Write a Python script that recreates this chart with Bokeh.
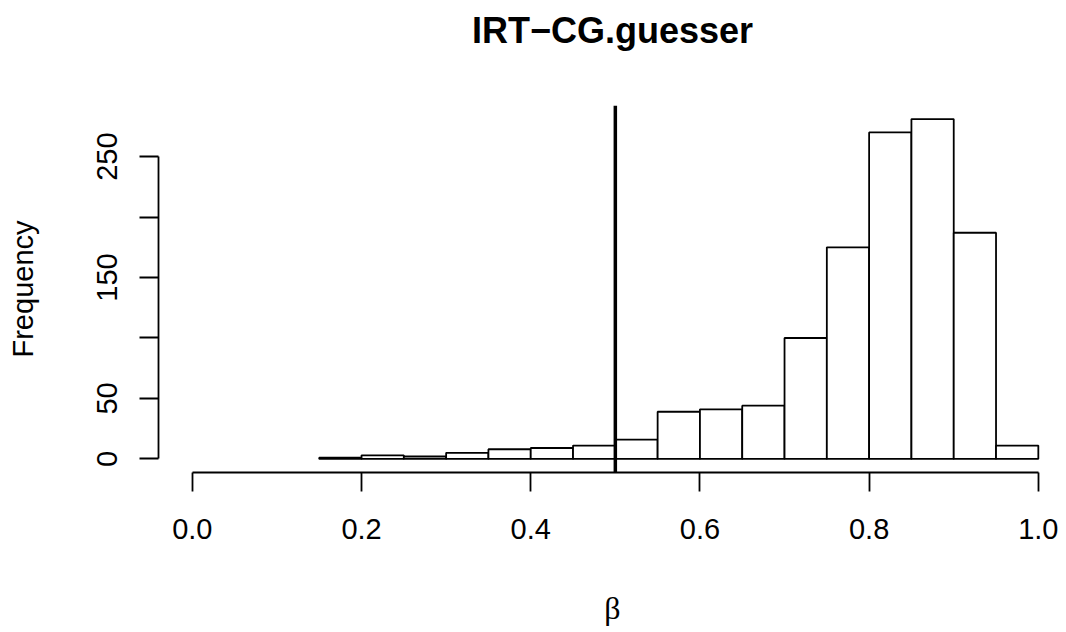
from bokeh.plotting import figure
from bokeh.models import Range1d, FixedTicker, Span
from bokeh.embed import file_html
from bokeh.resources import INLINE

# Histogram data (bin edges and frequencies)
bin_left = [0.15, 0.20, 0.25, 0.30, 0.35, 0.40, 0.45, 0.50, 0.55, 0.60,
            0.65, 0.70, 0.75, 0.80, 0.85, 0.90, 0.95]
bin_right = [0.20, 0.25, 0.30, 0.35, 0.40, 0.45, 0.50, 0.55, 0.60, 0.65,
             0.70, 0.75, 0.80, 0.85, 0.90, 0.95, 1.00]
counts = [1, 3, 2, 5, 8, 9, 11, 16, 39, 41, 44, 100, 175, 270, 281, 187, 11]

x_ticks = [0.0, 0.2, 0.4, 0.6, 0.8, 1.0]
x_tick_labels = ["0.0", "0.2", "0.4", "0.6", "0.8", "1.0"]
y_ticks = [0, 50, 100, 150, 200, 250]
y_tick_labels = ["0", "50", "", "150", "", "250"]
threshold = 0.5

title_text = "IRT\u2212CG.guesser"
x_label = "\u03b2"
y_label = "Frequency"

FONT = "Liberation Sans"

p = figure(width=1066, height=632,
           x_range=Range1d(-0.04, 1.0333), y_range=Range1d(-11.24, 292.24),
           output_backend="svg", toolbar_location=None,
           min_border_left=158, min_border_right=0,
           min_border_top=105, min_border_bottom=160)

p.quad(left=bin_left, right=bin_right, top=counts, bottom=0,
       fill_color="white", line_color="black", line_width=1.8)

p.add_layout(Span(location=threshold, dimension="height",
                  line_color="black", line_width=3.5))

p.grid.visible = False
p.outline_line_color = None
p.background_fill_color = "white"
p.border_fill_color = "white"

# Title: a blank second line lifts the text towards the top of the margin
p.title.text = title_text + "\n "
p.title.align = "center"
p.title.text_font = FONT
p.title.text_font_style = "bold"
p.title.text_font_size = "36px"
p.title.text_color = "black"
p.title.text_line_height = 1.2
p.title.standoff = 10
p.title.offset = 3

# X axis
xa = p.xaxis[0]
xa.bounds = (0, 1)
xa.ticker = FixedTicker(ticks=x_ticks)
xa.major_label_overrides = {t: l for t, l in zip(x_ticks, x_tick_labels)}
xa.minor_tick_line_color = None
xa.major_tick_in = 0
xa.major_tick_out = 19
xa.major_tick_line_width = 1.8
xa.major_tick_line_color = "black"
xa.axis_line_width = 1.8
xa.axis_line_color = "black"
xa.major_label_text_font = FONT
xa.major_label_text_font_size = "29px"
xa.major_label_text_color = "black"
xa.major_label_standoff = 27
xa.axis_label = x_label
xa.axis_label_text_font = "Liberation Serif"
xa.axis_label_text_font_style = "normal"
xa.axis_label_text_font_size = "32px"
xa.axis_label_text_color = "black"
xa.axis_label_standoff = 48

# Y axis
ya = p.yaxis[0]
ya.bounds = (0, 250)
ya.ticker = FixedTicker(ticks=y_ticks)
ya.major_label_overrides = {t: l for t, l in zip(y_ticks, y_tick_labels)}
ya.minor_tick_line_color = None
ya.major_tick_in = 0
ya.major_tick_out = 19
ya.major_tick_line_width = 1.8
ya.major_tick_line_color = "black"
ya.axis_line_width = 1.8
ya.axis_line_color = "black"
ya.major_label_orientation = "vertical"
ya.major_label_text_font = FONT
ya.major_label_text_font_size = "29px"
ya.major_label_text_color = "black"
ya.major_label_standoff = 22
ya.axis_label = y_label
ya.axis_label_text_font = FONT
ya.axis_label_text_font_style = "normal"
ya.axis_label_text_font_size = "29px"
ya.axis_label_text_color = "black"
ya.axis_label_standoff = 56

open("out.html", "w").write(file_html(p, INLINE))
